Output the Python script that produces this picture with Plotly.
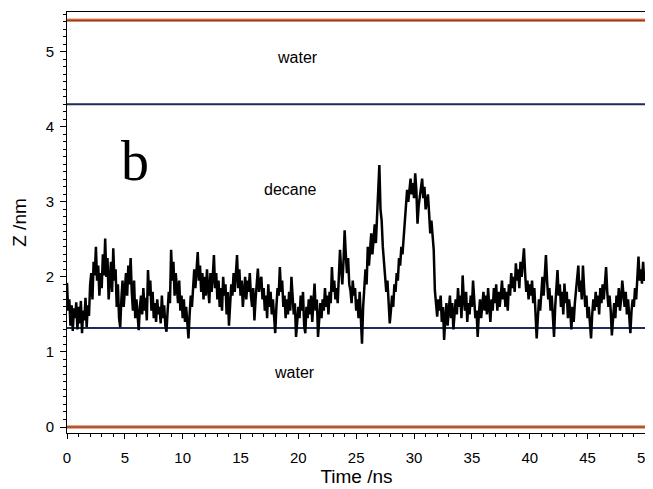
import plotly.graph_objects as go

z_rows = [
    [1.92, 1.55, 1.70, 1.35, 1.62, 1.28, 1.58, 1.45, 1.66, 1.30],
    [1.60, 1.38, 1.68, 1.25, 1.55, 1.42, 1.72, 1.33, 1.62, 1.48],
    [1.90, 2.05, 1.70, 2.20, 2.02, 2.40, 1.95, 2.15, 1.75, 2.05],
    [1.85, 2.30, 2.02, 2.51, 2.00, 2.25, 1.70, 1.95, 2.20, 1.80],
    [2.38, 1.95, 2.10, 1.60, 1.90, 1.45, 1.33, 1.70, 1.95, 1.60],
    [1.85, 2.05, 1.75, 2.15, 1.90, 2.25, 1.80, 1.55, 1.95, 1.45],
    [1.70, 1.40, 1.29, 1.60, 1.75, 1.50, 1.85, 1.55, 1.72, 1.42],
    [2.09, 1.75, 1.95, 1.55, 1.80, 1.45, 1.65, 1.40, 1.70, 1.50],
    [1.60, 1.38, 1.75, 1.45, 1.62, 1.35, 1.27, 1.55, 1.80, 1.65],
    [2.36, 1.95, 2.20, 1.75, 2.05, 1.85, 1.65, 1.95, 1.55, 1.75],
    [1.45, 1.70, 1.40, 1.60, 1.30, 1.18, 1.50, 1.75, 1.60, 1.90],
    [2.10, 1.85, 2.20, 2.33, 1.95, 2.15, 1.80, 2.05, 1.70, 2.00],
    [1.75, 2.10, 1.85, 1.65, 2.05, 1.80, 2.00, 2.29, 1.85, 2.05],
    [1.70, 1.95, 1.60, 1.85, 1.55, 2.00, 1.75, 1.90, 1.50, 1.80],
    [1.35, 1.65, 1.90, 1.75, 2.05, 1.80, 2.00, 2.29, 1.85, 2.10],
    [1.75, 1.95, 1.60, 1.85, 2.00, 1.70, 1.95, 1.80, 2.05, 1.75],
    [1.60, 1.85, 1.42, 1.70, 1.95, 2.11, 1.80, 1.95, 2.00, 1.70],
    [1.85, 1.55, 1.75, 1.45, 1.90, 1.60, 1.80, 1.50, 1.70, 1.40],
    [1.25, 1.60, 1.85, 1.75, 2.13, 1.80, 1.95, 1.60, 1.75, 1.45],
    [1.70, 1.50, 1.80, 1.55, 2.00, 1.75, 1.50, 1.65, 1.20, 1.40],
    [1.60, 1.45, 1.75, 1.55, 1.80, 1.35, 1.25, 1.60, 1.45, 1.70],
    [1.50, 1.75, 1.40, 1.65, 1.91, 1.55, 1.70, 1.20, 1.50, 1.65],
    [1.45, 1.70, 1.55, 1.85, 1.60, 1.75, 1.50, 1.80, 1.65, 2.13],
    [1.80, 1.95, 1.70, 1.85, 1.65, 2.00, 2.36, 2.10, 1.90, 2.20],
    [2.62, 2.30, 2.05, 2.25, 1.90, 1.82, 1.65, 1.95, 1.75, 1.85],
    [1.55, 1.70, 1.45, 1.80, 1.30, 1.11, 1.60, 1.95, 2.10, 1.90],
    [2.40, 2.15, 2.45, 2.58, 2.30, 2.55, 2.70, 2.45, 2.85, 3.10],
    [3.49, 2.90, 2.75, 2.40, 2.20, 2.00, 1.80, 1.95, 1.60, 1.38],
    [1.55, 1.75, 1.60, 1.90, 1.80, 2.05, 1.95, 2.25, 2.15, 2.40],
    [2.30, 2.55, 2.75, 2.90, 3.16, 3.00, 3.20, 3.31, 3.10, 3.25],
    [3.05, 3.38, 3.15, 2.71, 2.95, 3.10, 3.25, 3.31, 3.05, 3.20],
    [2.90, 2.98, 3.10, 2.85, 2.58, 2.75, 2.50, 2.36, 1.82, 1.60],
    [1.47, 1.70, 1.55, 1.75, 1.40, 1.60, 1.16, 1.45, 1.65, 1.35],
    [1.55, 1.75, 1.45, 1.65, 1.30, 1.55, 1.70, 1.50, 1.85, 1.60],
    [1.75, 1.45, 2.02, 1.70, 1.55, 1.80, 1.40, 1.65, 1.50, 1.75],
    [1.60, 1.95, 1.70, 1.45, 1.55, 1.20, 1.50, 1.70, 1.45, 1.65],
    [1.80, 1.55, 1.75, 1.50, 1.85, 1.60, 1.40, 1.70, 1.55, 1.85],
    [1.65, 1.90, 1.55, 1.80, 1.60, 1.75, 1.95, 1.70, 1.85, 1.60],
    [1.80, 1.55, 1.90, 1.75, 2.05, 1.85, 2.00, 1.80, 2.18, 1.95],
    [2.10, 1.85, 2.20, 2.00, 2.25, 2.38, 2.05, 1.80, 1.95, 1.70],
    [1.90, 1.75, 1.95, 1.65, 1.85, 1.50, 1.18, 1.45, 1.70, 1.55],
    [1.85, 2.00, 1.75, 2.10, 2.29, 1.95, 1.70, 1.85, 1.55, 1.75],
    [1.40, 1.20, 1.60, 1.85, 2.09, 1.75, 1.90, 1.60, 1.80, 1.50],
    [1.91, 1.65, 1.80, 1.45, 1.70, 1.55, 1.30, 1.60, 1.40, 1.65],
    [1.85, 2.00, 2.15, 1.80, 1.95, 1.70, 2.15, 1.85, 1.60, 1.75],
    [1.45, 1.60, 1.35, 1.18, 1.50, 1.70, 1.55, 1.80, 1.60, 1.75],
    [1.50, 1.85, 1.65, 1.90, 1.70, 1.95, 2.13, 1.80, 1.60, 1.75],
    [1.55, 1.22, 1.50, 1.65, 1.45, 1.75, 1.60, 1.85, 1.55, 1.70],
    [1.95, 1.75, 1.60, 1.80, 1.50, 1.70, 1.45, 1.25, 1.55, 1.70],
    [1.60, 1.85, 1.70, 2.05, 2.27, 1.95, 2.10, 1.91, 2.20, 1.95],
    [2.00],
]
z_values = [v for row in z_rows for v in row]
time_ns = [round(i * 0.1, 1) for i in range(len(z_values))]

# Interface positions (nm)
outer_water = [0.0, 5.42]
decane_interfaces = [1.32, 4.30]

region_labels = ["water", "decane", "water"]
region_label_pos = [(19.9, 4.93), (19.3, 3.16), (19.7, 0.73)]

x_ticks = [0, 5, 10, 15, 20, 25, 30, 35, 40, 45, 50]
y_ticks = [0, 1, 2, 3, 4, 5]

fig = go.Figure()

for y in outer_water:
    fig.add_trace(go.Scatter(x=[0, 50], y=[y, y], mode="lines",
                             line=dict(color="#e8875a", width=3.5),
                             hoverinfo="skip", showlegend=False))
    fig.add_trace(go.Scatter(x=[0, 50], y=[y, y], mode="lines",
                             line=dict(color="#6a2a18", width=1.2),
                             hoverinfo="skip", showlegend=False))
for y in decane_interfaces:
    fig.add_trace(go.Scatter(x=[0, 50], y=[y, y], mode="lines",
                             line=dict(color="#1c2a5c", width=2),
                             hoverinfo="skip", showlegend=False))

fig.add_trace(go.Scatter(x=time_ns, y=z_values, mode="lines",
                         line=dict(color="black", width=2.5),
                         showlegend=False))

for txt, (x, y) in zip(region_labels, region_label_pos):
    fig.add_annotation(x=x, y=y, text=txt, showarrow=False,
                       font=dict(family="Liberation Sans, Arial", size=16, color="black"))

fig.add_annotation(x=5.9, y=3.55, text="b", showarrow=False,
                   font=dict(family="Liberation Serif, Times New Roman", size=56, color="black"))

axis_font = dict(family="Liberation Sans, Arial", size=15, color="black")
title_font = dict(family="Liberation Sans, Arial", size=19, color="black")
fig.update_xaxes(range=[0, 50.05], tickvals=x_ticks, ticks="outside", ticklen=5,
                 tickwidth=1, tickcolor="black", ticklabelstandoff=6,
                 ticklabeloverflow="allow",
                 minor=dict(dtick=1, ticks="outside", ticklen=3, tickcolor="black"),
                 showline=True, linecolor="black", linewidth=1, mirror=True,
                 showgrid=False, zeroline=False, tickfont=axis_font, automargin=False,
                 title=dict(text="Time /ns", font=title_font, standoff=4))
fig.update_yaxes(range=[-0.08, 5.53], tickvals=y_ticks, ticks="outside", ticklen=6,
                 tickwidth=1, tickcolor="black", ticklabelstandoff=3,
                 minor=dict(dtick=0.1, ticks="outside", ticklen=3, tickcolor="black"),
                 showline=True, linecolor="black", linewidth=1, mirror=True,
                 showgrid=False, zeroline=False, tickfont=axis_font, automargin=False,
                 title=dict(text="Z /nm", font=title_font, standoff=14))

# page body adds an 8px offset; compensate so the plot area matches the reference
fig.update_layout(width=645, height=481, margin=dict(l=59, r=7, t=4, b=56),
                  plot_bgcolor="white", paper_bgcolor="white")

fig.write_html("out.html")
